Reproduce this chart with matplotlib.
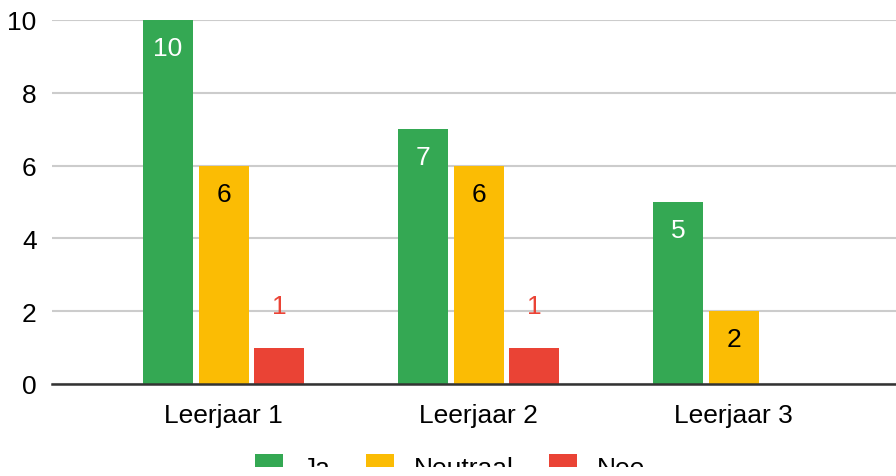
import matplotlib
matplotlib.use("Agg")
import matplotlib.pyplot as plt
from matplotlib.patches import Rectangle, Patch
import numpy as np

plt.rcParams['font.family'] = ['Liberation Sans', 'DejaVu Sans']

categories = ["Leerjaar 1", "Leerjaar 2", "Leerjaar 3"]
series_names = ["Ja", "Neutraal", "Nee"]
ja = [10, 7, 5]
neutraal = [6, 6, 2]
nee = [1, 1, 0]
yticks = [0, 2, 4, 6, 8, 10]

colors = ["#34A853", "#FBBC04", "#EA4335"]
label_colors = ["white", "black", "#EA4335"]

W, H = 896, 477
fig = plt.figure(figsize=(W / 100, H / 100), dpi=100)
ax = fig.add_axes([52 / W, (H - 385) / H, (W - 52) / W, (385 - 21) / H])

x = np.arange(len(categories))
unit = 255.0
c0 = 223.5
bw = 50 / unit
off = 55.5 / unit
fs = 19

for i, (vals, name) in enumerate(zip([ja, neutraal, nee], series_names)):
    pos = x + (i - 1) * off
    bars = ax.bar(pos, vals, width=bw, color=colors[i], zorder=3, label=name)
    for b, v in zip(bars, vals):
        if v == 0:
            continue
        cx = b.get_x() + b.get_width() / 2
        if v >= 2:
            ax.text(cx, v - 0.77, str(v), ha="center", va="center",
                    color=label_colors[i], fontsize=fs, zorder=4)
        else:
            ax.text(cx, v + 1.15, str(v), ha="center", va="center",
                    color=label_colors[i], fontsize=fs, zorder=4)

ax.set_xlim((52 - c0) / unit, (896 - c0) / unit)
ax.set_ylim(0, 10)
ax.set_yticks(yticks)
ax.set_yticklabels([str(t) for t in yticks], fontsize=fs)
ax.set_xticks(x)
ax.set_xticklabels(categories, fontsize=fs)
ax.tick_params(axis="both", length=0)
ax.tick_params(axis="y", pad=11)
ax.tick_params(axis="x", pad=14)
for s in ["top", "right", "left"]:
    ax.spines[s].set_visible(False)
ax.spines["bottom"].set_color("#333333")
ax.spines["bottom"].set_linewidth(1.8)
ax.spines["bottom"].set_zorder(5)
ax.grid(axis="y", color="#cccccc", linewidth=1.5, zorder=0)
ax.set_axisbelow(True)

handles = [Patch(facecolor=c, edgecolor="none") for c in colors]
fig.legend(handles, series_names, loc="center", bbox_to_anchor=(450 / W, (H - 468) / H),
           ncol=3, frameon=False, fontsize=fs, handlelength=1.06, handleheight=1.06,
           columnspacing=1.35, handletextpad=0.75, borderpad=0, borderaxespad=0)

fig.patches.append(Rectangle((0, 0), 1, (H - 468) / H, transform=fig.transFigure,
                             facecolor="white", edgecolor="none", zorder=10))

fig.savefig("out.png", dpi=100)
